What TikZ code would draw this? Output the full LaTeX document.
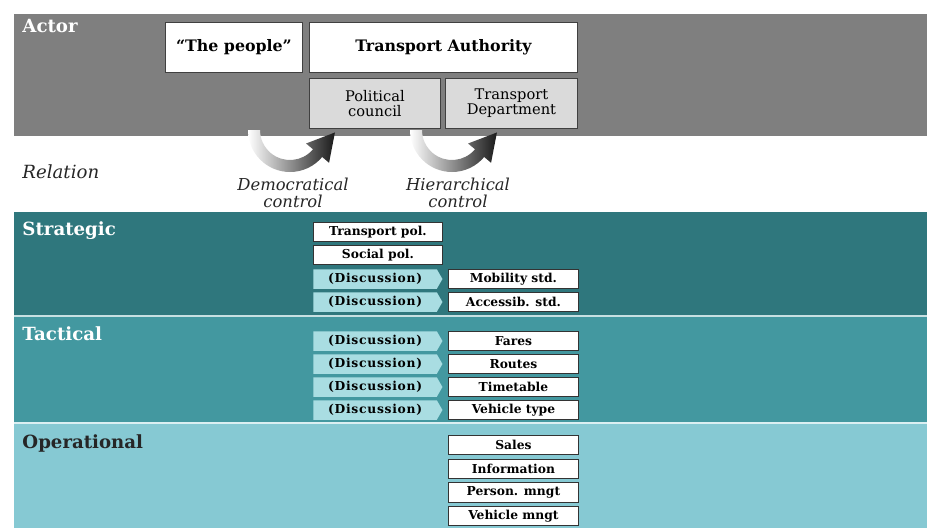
\documentclass[tikz,border=0pt]{standalone}
\usepackage{fontspec}
\setmainfont{DejaVu Serif}
\usetikzlibrary{positioning,shapes.symbols,calc}
\definecolor{actorgray}{HTML}{7F7F7F}
\definecolor{subgray}{HTML}{DADADA}
\definecolor{stratcol}{HTML}{2F777D}
\definecolor{tactcol}{HTML}{4398A0}
\definecolor{opcol}{HTML}{86C9D3}
\definecolor{disccol}{HTML}{A9DDE2}
\tikzset{every picture/.style={line width=0.75pt}}

\begin{document}
\begin{tikzpicture}[x=0.03cm,y=-0.03cm,
    lbl/.style={anchor=north west, inner sep=0pt, text=white,
        font=\fontsize{15.5}{17}\selectfont\bfseries},
    actbox/.style={draw=black!75, fill=white, anchor=north west, inner sep=1pt,
        minimum height=1.5cm, font=\fontsize{13.5}{15}\selectfont\bfseries},
    subbox/.style={actbox, fill=subgray, align=center,
        font=\fontsize{12.5}{12.5}\selectfont},
    cell/.style={draw=black!80, fill=white, anchor=west, inner sep=0pt,
        minimum width=3.9cm, minimum height=0.585cm,
        font=\fontsize{10.5}{11}\selectfont\bfseries},
    disc/.style={cell, draw=none, fill=disccol, signal, signal to=east,
        signal pointer angle=120, minimum width=3.87cm,
        font=\fontsize{10.5}{11}\selectfont\bfseries\addfontfeatures{LetterSpace=6}},
    ctrl/.style={align=center, inner sep=0pt, text=black!85,
        font=\fontsize{14}{14.5}\selectfont\itshape}
]
    \useasboundingbox (0,0) rectangle (927,528);

    % bands
    \fill[actorgray] (14,14) rectangle (927,136);
    \fill[stratcol] (14,212) rectangle (927,316);
    \fill[tactcol] (14,316) rectangle (927,423);
    \fill[opcol] (14,423) rectangle (927,528);
    \draw[white!70!tactcol, line width=1pt] (14,316) -- (927,316);
    \draw[white!70!opcol, line width=1.5pt] (14,423) -- (927,423);

    % band labels
    \node[lbl] (actor) at (22,19) {Actor};
    \node[lbl, text=black!85, font=\fontsize{15.5}{17}\selectfont\itshape] (relation) at (22,164) {Relation};
    \node[lbl] (strategic) at (22,221) {Strategic};
    \node[lbl] (tactical) at (22,326) {Tactical};
    \node[lbl, text=black!85] (operational) at (22,434) {Operational};

    % control arrows
    \coordinate (c1) at (290,130);
    \coordinate (c2) at (452,130);
    \foreach \c in {c1,c2} {
        \shade[left color=white, right color=black!90]
            ($(\c)+(180:42)$) arc[start angle=180, end angle=40, radius=42]
            -- ($(\c)+(40:51)$) -- ($(\c)+(40:36)+(-50:27)$) -- ($(\c)+(40:21)$)
            -- ($(\c)+(40:30)$) arc[start angle=40, end angle=180, radius=30] -- cycle;
    }
    \node[ctrl] (democ) at (293,193) {Democratical\\control};
    \node[ctrl] (hier) at (458,193) {Hierarchical\\control};

    % actors
    \node[actbox, minimum width=4.11cm] (people) at (165,22) {“The people”};
    \node[actbox, minimum width=8.04cm] (ta) at (309,22) {Transport Authority};
    \node[subbox, minimum width=3.93cm] (council) at (309,78) {Political\\council};
    \node[subbox, minimum width=3.96cm] (dept) at (445,78) {Transport\\Department};

    % strategic
    \node[cell, minimum width=3.87cm] (tpol) at (313,232) {Transport pol.};
    \node[cell, minimum width=3.87cm] (spol) at (313,255) {Social pol.};
    \node[disc] (sd1) at (313,279) {(Discussion)};
    \node[disc] (sd2) at (313,302) {(Discussion)};
    \node[cell] (mob) at (448,0 |- sd1) {Mobility std.};
    \node[cell] (acc) at (448,0 |- sd2) {Accessib. std.};

    % tactical
    \node[disc] (td1) at (313,341) {(Discussion)};
    \node[disc] (td2) at (313,364) {(Discussion)};
    \node[disc] (td3) at (313,387) {(Discussion)};
    \node[disc] (td4) at (313,410) {(Discussion)};
    \node[cell] (fares) at (448,0 |- td1) {Fares};
    \node[cell] (routes) at (448,0 |- td2) {Routes};
    \node[cell] (timet) at (448,0 |- td3) {Timetable};
    \node[cell] (vtype) at (448,0 |- td4) {Vehicle type};

    % operational
    \node[cell] (sales) at (448,445) {Sales};
    \node[cell, below=0.1cm of sales] (info) {Information};
    \node[cell, below=0.1cm of info] (pers) {Person. mngt};
    \node[cell, below=0.1cm of pers] (vmngt) {Vehicle mngt};
\end{tikzpicture}
\end{document}
